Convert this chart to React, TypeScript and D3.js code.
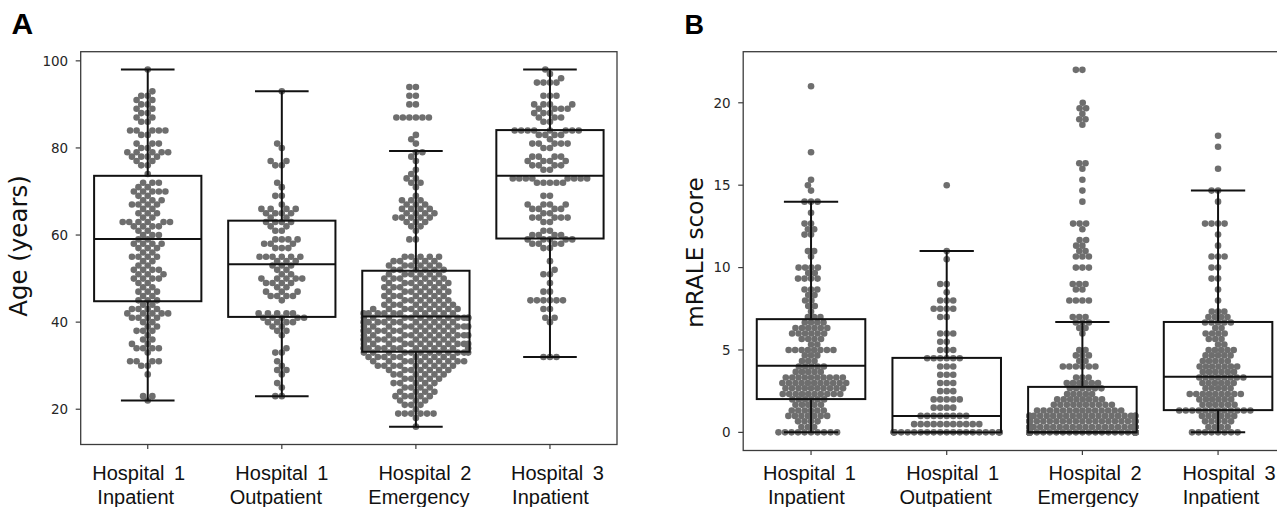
import React from 'react';
import * as d3 from 'd3';

type Pair = [number, number]; // [value, number of patients with that value]

const categoryLines: [string, string][] = [
  ['Hospital 1', 'Inpatient'],
  ['Hospital 1', 'Outpatient'],
  ['Hospital 2', 'Emergency'],
  ['Hospital 3', 'Inpatient'],
];

const ageTicks = [20, 40, 60, 80, 100];
const mraleTicks = [0, 5, 10, 15, 20];

// ---- Panel A: age (years) ----
const ageH1Inpatient: Pair[] = [
  [22, 1], [23, 2], [28, 1], [30, 2], [31, 4], [33, 1], [34, 4], [35, 2], [36, 2], [37, 1], [38, 3], [39, 2],
  [40, 2], [41, 4], [42, 5], [43, 4], [44, 2], [45, 3], [46, 2], [47, 3], [48, 2], [49, 2], [50, 4], [51, 3],
  [52, 4], [53, 2], [54, 2], [55, 4], [56, 2], [57, 3], [58, 4], [59, 2], [60, 3], [61, 2], [62, 4], [63, 6],
  [64, 2], [65, 3], [66, 2], [67, 4], [68, 3], [69, 2], [70, 5], [71, 2], [72, 3], [74, 1], [76, 2], [77, 2],
  [78, 4], [79, 5], [80, 2], [81, 3], [83, 2], [84, 5], [86, 2], [87, 2], [88, 2], [89, 2], [90, 2], [91, 2],
  [92, 2], [93, 1], [98, 1],
];
const ageH1Outpatient: Pair[] = [
  [23, 2], [25, 1], [26, 1], [28, 1], [29, 2], [30, 1], [31, 1], [33, 2], [34, 1], [37, 1], [38, 2], [39, 2],
  [40, 4], [41, 5], [42, 5], [45, 1], [46, 4], [47, 3], [48, 2], [49, 4], [50, 5], [51, 2], [52, 2], [53, 3],
  [54, 3], [55, 6], [57, 3], [58, 3], [59, 4], [61, 2], [62, 2], [63, 4], [64, 2], [65, 4], [66, 4], [67, 1],
  [69, 2], [71, 1], [72, 1], [76, 2], [77, 2], [80, 1], [81, 1], [93, 1],
];
const ageH2Emergency: Pair[] = [
  [16, 1], [18, 1], [19, 6], [20, 1], [21, 3], [22, 3], [23, 5], [24, 4], [25, 4], [26, 5], [27, 5], [28, 6],
  [29, 7], [30, 9], [31, 10], [32, 10], [33, 12], [34, 12], [35, 12], [36, 11], [37, 12], [38, 11], [39, 12],
  [40, 11], [41, 13], [42, 11], [43, 9], [44, 8], [45, 7], [46, 7], [47, 7], [48, 7], [49, 7], [50, 7], [51, 6],
  [52, 6], [53, 6], [54, 5], [55, 5], [59, 2], [61, 1], [62, 2], [63, 3], [64, 5], [65, 4], [66, 4], [67, 3],
  [68, 3], [69, 1], [71, 1], [72, 2], [73, 2], [74, 1], [75, 1], [77, 1], [78, 1], [79, 2], [81, 1], [82, 1],
  [83, 1], [87, 6], [90, 2], [92, 2], [94, 2],
];
const ageH3Inpatient: Pair[] = [
  [32, 3], [40, 1], [41, 2], [43, 2], [45, 6], [47, 2], [49, 1], [51, 2], [52, 1], [54, 1], [57, 2], [58, 4],
  [59, 5], [60, 4], [61, 2], [63, 2], [64, 5], [65, 2], [66, 4], [67, 4], [69, 2], [72, 5], [73, 8], [75, 2],
  [76, 4], [77, 4], [78, 4], [80, 2], [81, 5], [82, 1], [83, 4], [84, 8], [86, 2], [87, 3], [88, 3], [89, 4],
  [90, 4], [92, 3], [95, 4], [96, 1], [97, 1], [98, 1],
];

const ageQ1 = [44.8, 41.2, 33.2, 59.2];
const ageMedian = [59.1, 53.3, 41.3, 73.6];
const ageQ3 = [73.6, 63.3, 51.8, 84.1];
const ageWhiskerLow = [22, 23, 16, 32];
const ageWhiskerHigh = [98, 93, 79.3, 98];

// ---- Panel B: mRALE score ----
const mraleH1Inpatient: Pair[] = [
  [0, 10], [0.33, 3], [0.67, 4], [1, 7], [1.33, 6], [1.67, 5], [2, 6], [2.33, 10], [2.67, 10], [3, 11],
  [3.33, 10], [3.67, 5], [4, 5], [4.33, 3], [4.67, 3], [5, 8], [5.33, 2], [5.67, 4], [6, 6], [6.33, 6],
  [6.67, 4], [7, 3], [7.33, 1], [7.67, 2], [8, 2], [8.33, 2], [8.67, 3], [9.33, 4], [9.67, 2], [10, 4],
  [10.67, 1], [11, 2], [12, 2], [12.33, 2], [12.67, 2], [13.33, 1], [14, 3], [14.67, 1], [15, 1], [15.33, 1],
  [17, 1], [21, 1],
];
const mraleH1Outpatient: Pair[] = [
  [0, 22], [0.5, 11], [1, 8], [1.5, 4], [2, 5], [2.5, 3], [3, 3], [3.5, 3], [4, 3], [4.5, 6], [5, 3], [5.5, 2],
  [6, 3], [7, 2], [7.5, 4], [8, 3], [8.5, 1], [9, 2], [10.5, 1], [11, 1], [15, 1],
];
const mraleH2Emergency: Pair[] = [
  [0, 90], [0.33, 25], [0.67, 25], [1, 20], [1.33, 14], [1.67, 10], [2, 8], [2.33, 5], [2.67, 6], [3, 6],
  [3.33, 3], [4, 6], [4.33, 2], [4.67, 3], [5, 2], [6, 1], [6.33, 2], [6.67, 3], [7, 3], [8, 4], [8.67, 2],
  [9, 3], [10, 3], [10.67, 3], [11, 2], [11.33, 2], [11.67, 2], [12.33, 1], [12.67, 3], [14, 1], [14.67, 1],
  [15.33, 1], [16, 1], [16.33, 2], [18.67, 1], [19, 2], [19.33, 1], [19.67, 2], [20, 1], [22, 2],
];
const mraleH3Inpatient: Pair[] = [
  [0, 8], [0.33, 4], [0.67, 5], [1, 6], [1.33, 12], [1.67, 6], [2, 6], [2.33, 9], [2.67, 5], [3, 6], [3.33, 8],
  [3.67, 6], [4, 7], [4.33, 5], [4.67, 5], [5, 5], [5.33, 2], [5.67, 3], [6, 4], [6.33, 2], [6.67, 5], [7, 4],
  [7.33, 3], [8, 1], [8.67, 1], [9.33, 2], [10, 2], [10.67, 3], [11.33, 1], [12, 1], [12.67, 4], [14, 1],
  [14.67, 2], [16, 1], [17.33, 1], [18, 1],
];

const mraleQ1 = [2.02, 0, 0, 1.35];
const mraleMedian = [4.04, 1.0, 0, 3.37];
const mraleQ3 = [6.87, 4.52, 2.76, 6.7];
const mraleWhiskerLow = [0, 0, 0, 0];
const mraleWhiskerHigh = [14.0, 11.0, 6.7, 14.67];

// ---------------------------------------------------------------
const expand = (pairs: Pair[]) => pairs.flatMap(([v, n]) => Array.from({ length: n }, () => v));

function beeswarm(values: number[], y: (v: number) => number, cx: number, half: number, d: number) {
  const pts = values.map((v) => ({ v, y: y(v) })).sort((a, b) => a.v - b.v);
  const placed: { x: number; y: number }[] = [];
  for (const p of pts) {
    const neighbors = placed.filter((q) => Math.abs(q.y - p.y) < d);
    const cands = [cx];
    for (const q of neighbors) {
      const dy = q.y - p.y;
      const dx = Math.sqrt(Math.max(0, d * d - dy * dy)) * 1.05;
      cands.push(q.x - dx, q.x + dx);
    }
    cands.sort((a, b) => Math.abs(a - cx) - Math.abs(b - cx));
    let chosen = cx;
    for (const c of cands) {
      let ok = true;
      for (const q of neighbors) {
        const dx = q.x - c;
        const dy = q.y - p.y;
        if (dx * dx + dy * dy < d * d - 1e-6) { ok = false; break; }
      }
      if (ok) { chosen = c; break; }
    }
    placed.push({ x: chosen, y: p.y });
  }
  return placed.map((p) => ({ x: Math.max(cx - half, Math.min(cx + half, p.x)), y: p.y }));
}

type PanelCfg = {
  x0: number; x1: number; yTop: number; yBottom: number; domain: [number, number];
  groups: Pair[][]; q1: number[]; med: number[]; q3: number[]; wlo: number[]; whi: number[];
  ticks: number[]; yLabel: string; yLabelX: number; yLabelY: number; yLabelSize: number;
  letter: string; letterX: number; letterY: number; letterSize: number;
  labelDx: [number, number][];
};

const DOT_D = 6.2;
const DOT_R = 3.3;
const DOT_COLOR = '#6e6e6e';
const LINE = '#111';
const TICK_FONT = 'DejaVu Sans, sans-serif';
const LABEL_FONT = '"Liberation Sans", Arial, sans-serif';

function Panel({ c }: { c: PanelCfg }) {
  const x = d3.scaleBand<number>().domain([0, 1, 2, 3]).range([c.x0, c.x1]);
  const y = d3.scaleLinear().domain(c.domain).range([c.yBottom, c.yTop]);
  const bw = x.bandwidth();
  const center = (i: number) => (x(i) as number) + bw / 2;
  const boxW = bw * 0.8;
  const capW = boxW / 2;

  const swarms = c.groups.map((g, i) => beeswarm(expand(g), y, center(i), bw * 0.39, DOT_D));

  return (
    <g>
      <text x={c.letterX} y={c.letterY} fontFamily={LABEL_FONT} fontWeight="bold" fontSize={c.letterSize} fill="#000">
        {c.letter}
      </text>
      <rect x={c.x0} y={c.yTop} width={c.x1 - c.x0} height={c.yBottom - c.yTop} fill="none" stroke="#3c3c3c" strokeWidth={1.3} />
      {swarms.map((s, i) => (
        <g key={'s' + i}>
          {s.map((p, j) => (
            <circle key={j} cx={p.x} cy={p.y} r={DOT_R} fill={DOT_COLOR} />
          ))}
        </g>
      ))}
      {c.groups.map((_, i) => {
        const cx = center(i);
        return (
          <g key={'b' + i} stroke={LINE} strokeWidth={2} fill="none">
            <rect x={cx - boxW / 2} y={y(c.q3[i])} width={boxW} height={y(c.q1[i]) - y(c.q3[i])} />
            <line x1={cx - boxW / 2} x2={cx + boxW / 2} y1={y(c.med[i])} y2={y(c.med[i])} />
            <line x1={cx} x2={cx} y1={y(c.q3[i])} y2={y(c.whi[i])} />
            <line x1={cx} x2={cx} y1={y(c.q1[i])} y2={y(c.wlo[i])} />
            <line x1={cx - capW / 2} x2={cx + capW / 2} y1={y(c.whi[i])} y2={y(c.whi[i])} />
            <line x1={cx - capW / 2} x2={cx + capW / 2} y1={y(c.wlo[i])} y2={y(c.wlo[i])} />
          </g>
        );
      })}
      {c.ticks.map((t) => (
        <g key={'t' + t}>
          <line x1={c.x0 - 5} x2={c.x0} y1={y(t)} y2={y(t)} stroke="#3c3c3c" strokeWidth={1.2} />
          <text x={c.x0 - 12.5} y={y(t)} dy="0.36em" textAnchor="end" fontFamily={TICK_FONT} fontSize={13.5} fill="#262626">
            {t}
          </text>
        </g>
      ))}
      {categoryLines.map((lines, i) => (
        <g key={'x' + i}>
          <line x1={center(i)} x2={center(i)} y1={c.yBottom} y2={c.yBottom + 4.5} stroke="#3c3c3c" strokeWidth={1.2} />
          <text x={center(i) + c.labelDx[i][0]} y={480.3} textAnchor="middle" fontFamily={LABEL_FONT} fontSize={20} wordSpacing={4} fill="#111">
            {lines[0]}
          </text>
          <text x={center(i) + c.labelDx[i][1]} y={504.3} textAnchor="middle" fontFamily={LABEL_FONT} fontSize={20} fill="#111">
            {lines[1]}
          </text>
        </g>
      ))}
      <text
        transform={`translate(${c.yLabelX},${c.yLabelY}) rotate(-90)`}
        textAnchor="middle"
        fontFamily={TICK_FONT}
        fontSize={c.yLabelSize}
        fill="#111"
      >
        {c.yLabel}
      </text>
    </g>
  );
}

const panelA: PanelCfg = {
  x0: 80.7, x1: 617, yTop: 51.7, yBottom: 444.5, domain: [11.9, 102.1],
  groups: [ageH1Inpatient, ageH1Outpatient, ageH2Emergency, ageH3Inpatient],
  q1: ageQ1, med: ageMedian, q3: ageQ3, wlo: ageWhiskerLow, whi: ageWhiskerHigh,
  ticks: ageTicks, yLabel: 'Age (years)', yLabelX: 26.5, yLabelY: 246, yLabelSize: 24.5,
  letter: 'A', letterX: 11.5, letterY: 34, letterSize: 30,
  labelDx: [[-9, -12], [0, -6], [9, 3], [7.5, 0.5]],
};

const panelB: PanelCfg = {
  x0: 743.2, x1: 1285.9, yTop: 51.7, yBottom: 450.5, domain: [-1.1, 23.1],
  groups: [mraleH1Inpatient, mraleH1Outpatient, mraleH2Emergency, mraleH3Inpatient],
  q1: mraleQ1, med: mraleMedian, q3: mraleQ3, wlo: mraleWhiskerLow, whi: mraleWhiskerHigh,
  ticks: mraleTicks, yLabel: 'mRALE score', yLabelX: 703, yLabelY: 252.5, yLabelSize: 23.1,
  letter: 'B', letterX: 684.5, letterY: 33.5, letterSize: 27,
  labelDx: [[-1.6, -4.6], [6, -1], [12.7, 5.6], [11, 3]],
};

export default function App() {
  return (
    <svg
      width={1277}
      height={507}
      viewBox="0 0 1277 507"
      style={{ position: 'absolute', left: 0, top: 0, background: '#fff' }}
    >
      <rect x={0} y={0} width={1277} height={507} fill="#fff" />
      <Panel c={panelA} />
      <Panel c={panelB} />
    </svg>
  );
}
